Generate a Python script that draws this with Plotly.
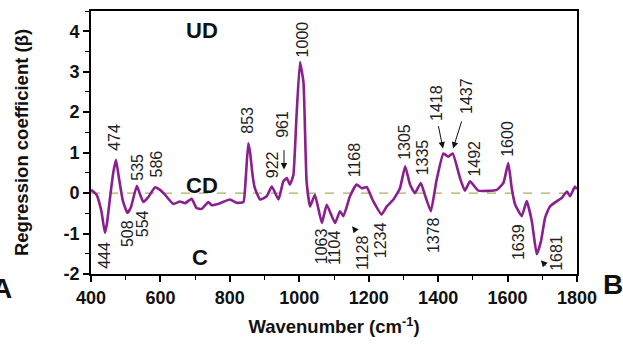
import plotly.graph_objects as go

wavenumber = [400, 416, 430, 440, 446, 455, 464, 472, 480, 492, 505, 515, 532, 542, 551, 565, 584, 599, 613,
              637, 656, 671, 690, 704, 719, 738, 748, 772, 800, 820, 839, 846, 853, 858, 866, 872, 887, 906,
              921, 940, 954, 964, 973, 983, 992, 1002, 1012, 1021, 1031, 1045, 1065, 1079, 1103, 1117, 1127,
              1146, 1165, 1180, 1194, 1213, 1237, 1252, 1271, 1290, 1305, 1319, 1333, 1350, 1362, 1379, 1395,
              1415, 1429, 1442, 1463, 1477, 1492, 1516, 1569, 1588, 1602, 1612, 1622, 1641, 1655, 1670, 1684,
              1696, 1708, 1722, 1742, 1756, 1771, 1780, 1794, 1800]
coefficient = [0.08, -0.04, -0.45, -0.98, -0.75, -0.10, 0.50, 0.82, 0.40, -0.20, -0.49, -0.35, 0.18, -0.05,
               -0.22, -0.10, 0.14, 0.08, -0.04, -0.27, -0.21, -0.25, -0.14, -0.37, -0.39, -0.22, -0.30, -0.25,
               -0.16, -0.24, -0.22, 0.40, 1.23, 1.02, 0.40, 0.12, -0.16, -0.08, 0.16, -0.16, 0.29, 0.37, 0.21,
               0.45, 1.90, 3.24, 2.74, 0.29, -0.33, -0.04, -0.74, -0.29, -0.74, -0.45, -0.57, -0.08, 0.21, 0.12,
               0.15, -0.20, -0.53, -0.33, -0.16, 0.12, 0.66, 0.21, 0.00, 0.25, -0.05, -0.45, 0.30, 0.98, 0.90,
               0.98, 0.37, 0.06, 0.29, 0.06, 0.08, 0.25, 0.74, 0.12, -0.29, -0.57, -0.20, -0.70, -1.51, -1.20,
               -0.61, -0.33, -0.20, -0.12, 0.04, -0.08, 0.16, 0.10]

peak_labels = ["444", "474", "508", "535", "554", "586", "853", "922", "961", "1000", "1063", "1104", "1128",
               "1168", "1234", "1305", "1335", "1378", "1418", "1437", "1492", "1600", "1639", "1681"]
region_labels = ["UD", "CD", "C"]
x_ticks = [400, 600, 800, 1000, 1200, 1400, 1600, 1800]
y_ticks = [-2, -1, 0, 1, 2, 3, 4]

# label placement (data coords)
label_pos = {
    "444": (440, -1.53), "474": (469, 1.39), "508": (507, -1.01), "535": (533, 0.63),
    "554": (547, -0.77), "586": (590, 0.73), "853": (852, 1.81), "922": (921, 0.71),
    "961": (953, 1.71), "1000": (1008, 3.80), "1063": (1063, -1.31), "1104": (1100, -1.36),
    "1128": (1184, -1.48), "1168": (1160, 0.83), "1234": (1233, -1.16), "1305": (1305, 1.27),
    "1335": (1356, 0.88), "1378": (1385, -1.04), "1418": (1397, 2.23), "1437": (1483, 2.40),
    "1492": (1506, 0.85), "1600": (1601, 1.34), "1639": (1630, -1.21), "1681": (1742, -1.48),
}
region_pos = {"UD": (720, 4.02), "CD": (720, 0.19), "C": (714, -1.58)}
arrows = [((956, 1.10), (956, 0.58)), ((1166, -0.97), (1152, -0.82)),
          ((1400, 1.69), (1414, 1.10)), ((1469, 1.81), (1443, 1.10)),
          ((1714, -1.83), (1696, -1.66))]

fig = go.Figure()
fig.add_trace(go.Scatter(x=[400, 1800], y=[0, 0], mode="lines",
                         line=dict(color="rgb(165,175,95)", width=1.3, dash="dash"),
                         hoverinfo="skip", showlegend=False))
fig.add_trace(go.Scatter(x=wavenumber, y=coefficient, mode="lines",
                         line=dict(color="#8a1f8e", width=2.6, shape="spline", smoothing=0.4),
                         showlegend=False))

FONT = "Liberation Sans, Arial"
ann = []
for lab in peak_labels:
    x, y = label_pos[lab]
    ann.append(dict(x=x, y=y, xref="x", yref="y", text=lab, showarrow=False, textangle=-90,
                    xanchor="center", yanchor="middle",
                    font=dict(family=FONT, size=16, color="#222")))
for lab in region_labels:
    x, y = region_pos[lab]
    ann.append(dict(x=x, y=y, xref="x", yref="y", text="<b>%s</b>" % lab, showarrow=False,
                    xanchor="center", yanchor="middle",
                    font=dict(family=FONT, size=22, color="#111")))
for (tx, ty), (hx, hy) in arrows:
    ann.append(dict(x=hx, y=hy, ax=tx, ay=ty, xref="x", yref="y", axref="x", ayref="y",
                    text="", showarrow=True, arrowhead=2, arrowsize=1.3, arrowwidth=1, arrowcolor="#111"))

# panel letters (paper coords: plot area spans x 91..577 px, y 9..274 px)
ann.append(dict(x=(2 - 91) / 486, y=(274 - 289) / 265, xref="paper", yref="paper", text="<b>A</b>",
                showarrow=False, xanchor="center", yanchor="middle",
                font=dict(family=FONT, size=28, color="#111")))
ann.append(dict(x=(613 - 91) / 486, y=(274 - 285) / 265, xref="paper", yref="paper", text="<b>B</b>",
                showarrow=False, xanchor="center", yanchor="middle",
                font=dict(family=FONT, size=28, color="#111")))

axis_font = dict(family=FONT, size=18, color="#111")
fig.update_layout(
    width=623, height=344,
    margin=dict(l=91, r=46, t=9, b=70),
    paper_bgcolor="white", plot_bgcolor="white",
    annotations=ann,
    xaxis=dict(range=[400, 1800], tickvals=x_ticks, ticktext=["<b>%d</b>" % v for v in x_ticks],
               showgrid=False, zeroline=False, showline=True, linecolor="black", linewidth=1.8,
               mirror=True, ticks="outside", ticklen=6, tickwidth=1.5, tickcolor="black",
               minor=dict(dtick=100, ticks="outside", ticklen=4, tickwidth=1.3, tickcolor="black"),
               tickfont=axis_font,
               title=dict(text="<b>Wavenumber (cm<sup>-1</sup>)</b>", standoff=14,
                          font=dict(family=FONT, size=18.5, color="#111"))),
    yaxis=dict(range=[-2, 4.5], tickvals=y_ticks, ticktext=["<b>%d</b>" % v for v in y_ticks],
               showgrid=False, zeroline=False, showline=True, linecolor="black", linewidth=1.8,
               mirror=True, ticks="outside", ticklen=6, tickwidth=1.5, tickcolor="black",
               minor=dict(dtick=0.5, ticks="outside", ticklen=4, tickwidth=1.3, tickcolor="black"),
               tickfont=axis_font,
               title=dict(text="<b>Regression coefficient (β)</b>", standoff=30,
                          font=dict(family=FONT, size=18.5, color="#111"))),
)

fig.write_html("out.html")
